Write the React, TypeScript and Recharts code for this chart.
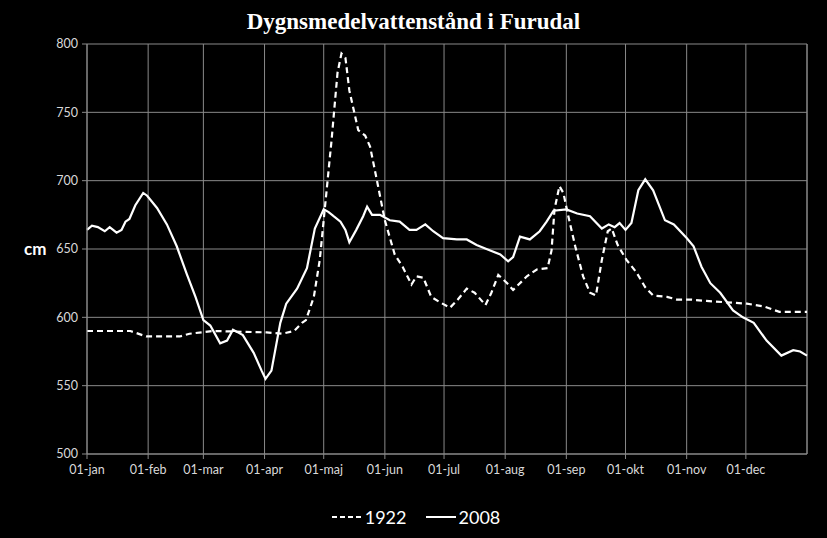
import React from 'react';
import { LineChart, Line, XAxis, YAxis, CartesianGrid, Legend, ReferenceLine, Label } from 'recharts';

const monthTicks = [0, 31, 59, 90, 120, 151, 181, 212, 243, 273, 304, 334];
const monthLabels = ['01-jan', '01-feb', '01-mar', '01-apr', '01-maj', '01-jun', '01-jul', '01-aug', '01-sep', '01-okt', '01-nov', '01-dec'];
const yTicks = [500, 550, 600, 650, 700, 750, 800];

// day of year -> cm
const days1922 = [0, 22, 30, 47, 52, 64, 91, 99, 105, 109, 111, 115, 118, 121, 124, 127, 129, 131, 133, 137.5, 141, 143.5, 147, 151, 156, 160, 164.5, 167, 170.5, 174.5, 179, 184, 188, 192.5, 196.5, 202, 205, 208.5, 213, 216, 223, 228, 233.5, 235.5, 237, 239.5, 241.5, 244, 247.5, 251.5, 255, 258, 261, 264, 266, 269, 273.5, 278.5, 283, 287, 294, 299, 306, 314, 324, 334.5, 343, 351, 365];
const values1922 = [590, 590, 586, 586, 588, 590, 589, 588, 590, 596, 598, 615, 642, 686, 730, 779, 793, 790, 766, 737, 733, 725, 700, 671, 646, 637, 624, 630, 629, 615, 611, 607, 613, 621, 618, 609, 618, 631, 625, 620, 630, 635, 636, 649, 679, 696, 691, 674, 652, 630, 618, 616, 642, 663, 665, 653, 642, 633, 622, 616, 615, 613, 613, 612, 611, 610, 608, 604, 604];

const days2008 = [0, 2.5, 5.5, 9, 11.5, 15, 17.5, 19.5, 21.5, 24.5, 28.5, 30.5, 35.5, 40.5, 45.5, 50.5, 55, 59, 62.5, 67.5, 71, 74, 79, 84.5, 88.5, 90.5, 93.5, 98, 101, 106.5, 111.5, 115.5, 120, 122.5, 125, 128.5, 131, 133, 136.5, 140, 142, 144.5, 148.5, 153.5, 158.5, 163.5, 167, 171.5, 175.5, 180.5, 187.5, 192.5, 197.5, 202.5, 209.5, 213.5, 216, 219.5, 224.5, 229.5, 233, 236.5, 243, 248.5, 255, 261, 264.5, 267.5, 270, 273, 276, 279.5, 283, 287, 293, 297.5, 304, 307.5, 311.5, 316, 321, 327.5, 332.5, 338, 344.5, 352, 358, 361.5, 365];
const values2008 = [664, 667, 666, 663, 666, 662, 664, 670, 672, 682, 691, 689, 680, 668, 652, 632, 615, 598, 594, 581, 583, 591, 587, 574, 561, 555, 561, 596, 610, 621, 636, 665, 679, 677, 674, 670, 664, 655, 664, 674, 681, 675, 675, 671, 670, 664, 664, 668, 663, 658, 657, 657, 653, 650, 646, 641, 644, 659, 657, 663, 670, 678, 679, 676, 674, 665, 668, 666, 669, 664, 669, 693, 701, 693, 671, 668, 658, 652, 637, 625, 618, 605, 600, 596, 583, 572, 576, 575, 572];

const series1922 = days1922.map((d, i) => ({ day: d, v: values1922[i] }));
const series2008 = days2008.map((d, i) => ({ day: d, v: values2008[i] }));

const gridColor = '#8a8a8a';
const tickStyle = { fill: '#d9d9d9', fontSize: 12.5, fontFamily: 'Lato' };

const LegendBox = () => (
  <div style={{ display: 'flex', justifyContent: 'center', alignItems: 'center', paddingTop: 22, paddingLeft: 24, fontFamily: 'Lato', fontSize: 18, color: '#fff' }}>
    <svg width={32} height={10}>
      <line x1={1} y1={5} x2={31} y2={5} stroke="#fff" strokeWidth={2} strokeDasharray="5 3" />
    </svg>
    <span style={{ marginLeft: 2, marginRight: 18 }}>1922</span>
    <svg width={32} height={10}>
      <line x1={1} y1={5} x2={31} y2={5} stroke="#fff" strokeWidth={2} />
    </svg>
    <span style={{ marginLeft: 2 }}>2008</span>
  </div>
);

export default function App() {
  return (
    <div style={{ position: 'absolute', left: 0, top: 0, width: 827, height: 538, background: '#000' }}>
      <div style={{ position: 'absolute', top: 9, width: 827, textAlign: 'center', color: '#fff', fontFamily: 'Liberation Serif', fontWeight: 'bold', fontSize: 23 }}>
        Dygnsmedelvattenstånd i Furudal
      </div>
      <LineChart width={827} height={538} margin={{ top: 44, right: 20, bottom: 0, left: 0 }}>
        <CartesianGrid stroke={gridColor} strokeWidth={1} />
        <XAxis
          type="number"
          dataKey="day"
          domain={[0, 365]}
          ticks={monthTicks}
          tickFormatter={(d: number) => monthLabels[monthTicks.indexOf(d)]}
          height={30}
          tick={tickStyle}
          tickSize={5}
          tickMargin={6}
          stroke={gridColor}
          allowDuplicatedCategory={false}
        />
        <YAxis
          type="number"
          domain={[500, 800]}
          ticks={yTicks}
          width={87}
          tick={tickStyle}
          tickSize={5}
          tickMargin={4}
          stroke={gridColor}
        >
          <Label value="cm" position="insideLeft" offset={24} style={{ fill: '#fff', fontFamily: 'Lato', fontWeight: 'bold', fontSize: 17 }} />
        </YAxis>
        <ReferenceLine x={365} stroke={gridColor} />
        <Legend verticalAlign="bottom" height={54} content={() => <LegendBox />} />
        <Line data={series1922} dataKey="v" name="1922" type="linear" stroke="#fff" strokeWidth={2.2} strokeDasharray="6 4" dot={false} isAnimationActive={false} />
        <Line data={series2008} dataKey="v" name="2008" type="linear" stroke="#fff" strokeWidth={2.2} dot={false} isAnimationActive={false} />
      </LineChart>
    </div>
  );
}
